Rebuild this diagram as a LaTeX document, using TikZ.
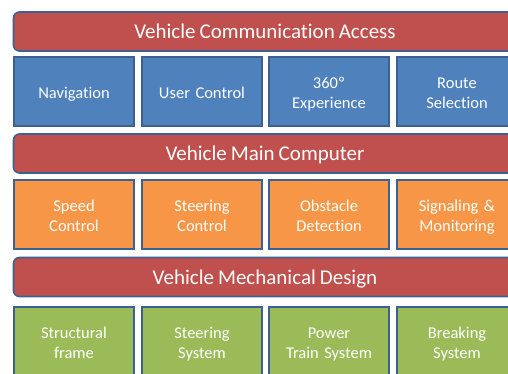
\documentclass[tikz,border=0pt]{standalone}
\usepackage{fontspec}
\setmainfont[Ligatures=NoCommon,WordSpace=0.85]{Carlito}
\usepackage{tikz}

\definecolor{barred}{HTML}{C0504D}
\definecolor{boxblue}{HTML}{4F81BD}
\definecolor{boxorange}{HTML}{F79646}
\definecolor{boxgreen}{HTML}{9BBB59}
\definecolor{edge}{HTML}{3C6190}

% fixed top and bottom of the text block
\newcommand{\topstrut}{\rule{0pt}{17.5pt}}
\newcommand{\botstrut}{\rule[-3.5pt]{0pt}{3.5pt}}

\tikzset{
  layer/.style={draw=edge, line width=1.6pt, fill=barred, rounded corners=6pt,
    minimum width=503pt, minimum height=39pt, text=white,
    text height=16pt, text depth=2pt,
    font=\fontsize{21}{24}\selectfont},
  part/.style={draw=edge, line width=1.6pt, minimum width=120pt, minimum height=69pt,
    text=white, text width=112pt, align=center,
    execute at begin node=\topstrut, execute at end node=\botstrut,
    font=\fontsize{16.5}{20}\selectfont},
}

\begin{document}
\begin{tikzpicture}[x=1pt,y=1pt]
\useasboundingbox (0,0) rectangle (508,373);
\clip (0,0) rectangle (508,373);

% communication layer
\node[layer] (access) at (265,341.5) {Vehicle Communication Access};
\node[part, fill=boxblue] (nav) at (74,281.5) {Navigation};
\node[part, fill=boxblue] (user) at (202,281.5) {User Control};
\node[part, fill=boxblue] (exp) at (329,281.5) {360º\\Experience};
\node[part, fill=boxblue] (route) at (457,281.5) {Route\\Selection};

% computer layer
\node[layer] (computer) at (265,219.5) {Vehicle Main Computer};
\node[part, fill=boxorange] (speed) at (74,158.5) {Speed\\Control};
\node[part, fill=boxorange] (steer) at (202,158.5) {Steering\\Control};
\node[part, fill=boxorange] (obst) at (329,158.5) {Obstacle\\Detection};
\node[part, fill=boxorange] (signal) at (457,158.5) {Signaling \&\\Monitoring};

% mechanical layer
\node[layer] (mech) at (265,96) {Vehicle Mechanical Design};
\node[part, fill=boxgreen] (frame) at (74,31.5) {Structural\\frame};
\node[part, fill=boxgreen] (steersys) at (202,31.5) {Steering\\System};
\node[part, fill=boxgreen] (power) at (329,31.5) {Power\\Train System};
\node[part, fill=boxgreen] (brake) at (457,31.5) {Breaking\\System};
\end{tikzpicture}
\end{document}
